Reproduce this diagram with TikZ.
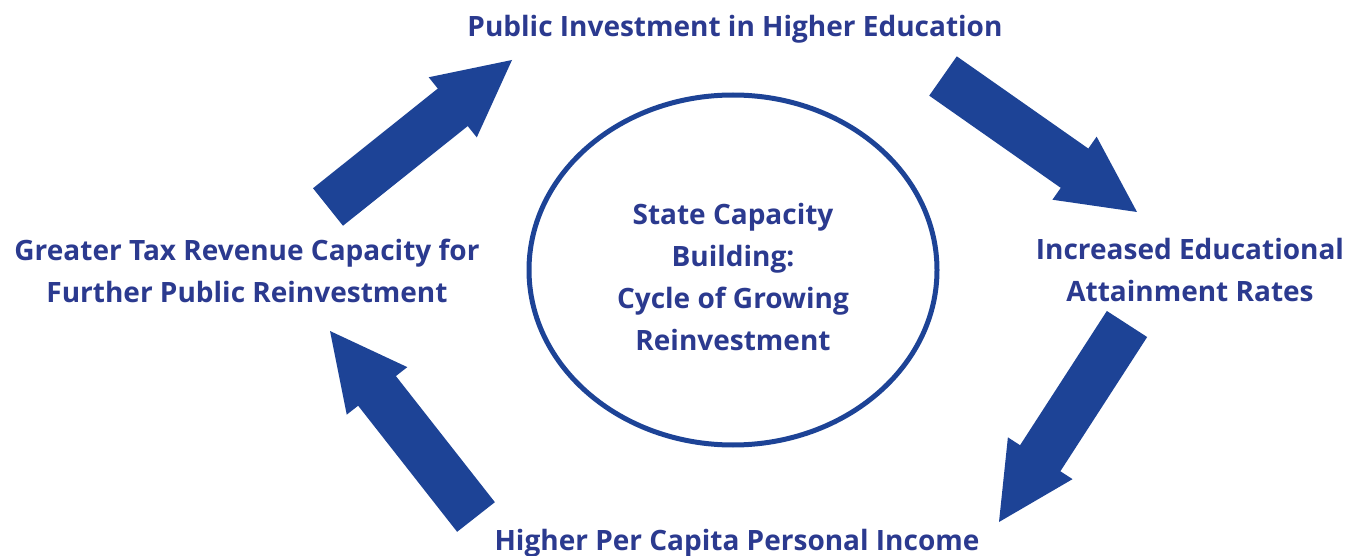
\documentclass[tikz,border=0pt]{standalone}
\usepackage{fontspec}
\setmainfont{Open Sans}
\usetikzlibrary{calc,shapes.geometric}
\definecolor{arrowblue}{RGB}{29,67,150}
\definecolor{textblue}{RGB}{43,58,143}
\newcommand{\blockarrow}[2]{%
  \coordinate (#1h) at ($(#1)!0.678!(#2)$);
  \fill[arrowblue] ($(#1)!24pt!90:(#2)$) -- ($(#1h)!24pt!90:(#2)$)
    -- ($(#1h)!38.5pt!90:(#2)$) -- (#2) -- ($(#1h)!38.5pt!-90:(#2)$)
    -- ($(#1h)!24pt!-90:(#2)$) -- ($(#1)!24pt!-90:(#2)$) -- cycle;}
\begin{document}
\begin{tikzpicture}[x=1pt,y=-1pt,
  lbl/.style={text=textblue, font=\bfseries\fontsize{28}{41.7}\selectfont, align=center, inner sep=0pt},
  hub/.style={draw=arrowblue, line width=5pt, ellipse, inner sep=0pt, minimum width=408pt, minimum height=350pt}]
\useasboundingbox (0,0) rectangle (1347,556);
\node[hub] (hub) at (733,270) {};
\node[lbl] (hubtext) at ($(hub.center)+(0,7)$) {State Capacity\\Building:\\Cycle of Growing\\Reinvestment};
\node[lbl, anchor=base] (pub) at (735,37) {Public Investment in Higher Education};
\node[lbl] (att) at (1190,270) {Increased Educational\\Attainment Rates};
\node[lbl, anchor=base] (inc) at (737,550) {Higher Per Capita Personal Income};
\node[lbl] (tax) at (247,271) {Greater Tax Revenue Capacity for\\Further Public Reinvestment};
\coordinate (a1) at (328,207); \coordinate (a1e) at (512,60);
\coordinate (a2) at (943,76);  \coordinate (a2e) at (1137,212);
\coordinate (a3) at (1127,324); \coordinate (a3e) at (999,522);
\coordinate (a4) at (476,517); \coordinate (a4e) at (330,331);
\blockarrow{a1}{a1e}
\blockarrow{a2}{a2e}
\blockarrow{a3}{a3e}
\blockarrow{a4}{a4e}
\end{tikzpicture}
\end{document}
